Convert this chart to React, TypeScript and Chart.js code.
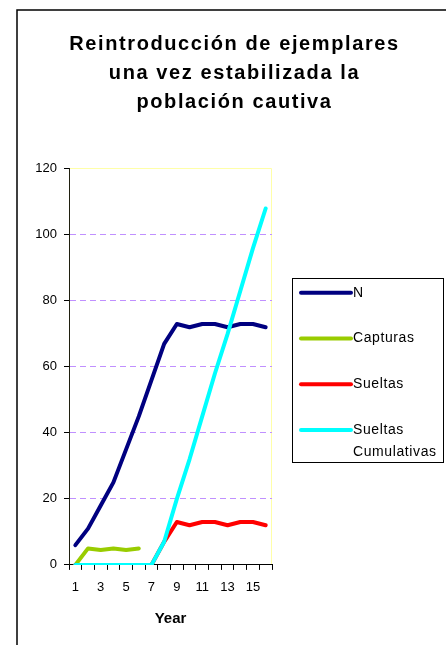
import { useEffect, useRef } from 'react';
import { Chart, registerables } from 'chart.js';

Chart.register(...registerables);

const years = ['1', '2', '3', '4', '5', '6', '7', '8', '9', '10', '11', '12', '13', '14', '15', '16'];
const seriesN = [6, 11, 18, 25, 35, 45, 56, 67, 73, 72, 73, 73, 72, 73, 73, 72];
const seriesCapturas = [0, 5, 4.5, 5, 4.5, 5, null, null, null, null, null, null, null, null, null, null];
const seriesSueltas = [0, 0, 0, 0, 0, 0, 0, 7, 13, 12, 13, 13, 12, 13, 13, 12];
const seriesCumulativas = [0, 0, 0, 0, 0, 0, 0, 7, 20, 32, 45, 58, 70, 83, 96, 108];
const seriesNames = ['N', 'Capturas', 'Sueltas', 'Sueltas Cumulativas'];
const seriesColors = ['#000080', '#99cc00', '#ff0000', '#00ffff'];
const titleLines = ['Reintroducción de ejemplares', 'una vez estabilizada la', 'población cautiva'];
const xAxisTitle = 'Year';
const yMin = 0;
const yMax = 120;
const yStep = 20;

const FONT = '"Liberation Sans", Arial, Helvetica, sans-serif';

export default function App() {
  const ref = useRef<HTMLCanvasElement>(null);

  useEffect(() => {
    const canvas = ref.current;
    if (!canvas) return;

    const decorPlugin = {
      id: 'decor',
      beforeDraw(chart: any) {
        const ctx = chart.ctx as CanvasRenderingContext2D;
        ctx.save();
        ctx.fillStyle = '#ffffff';
        ctx.fillRect(0, 0, chart.width, chart.height);
        // outer frame (left + top visible)
        ctx.strokeStyle = '#000000';
        ctx.lineWidth = 1.5;
        ctx.beginPath();
        ctx.moveTo(17, chart.height);
        ctx.lineTo(17, 10);
        ctx.lineTo(chart.width, 10);
        ctx.stroke();
        // plot area border (top + right), pale yellow
        const a = chart.chartArea;
        ctx.strokeStyle = '#ffffa8';
        ctx.lineWidth = 1;
        ctx.beginPath();
        ctx.moveTo(a.left, Math.floor(a.top) + 0.5);
        ctx.lineTo(a.right - 0.5, Math.floor(a.top) + 0.5);
        ctx.lineTo(a.right - 0.5, a.bottom);
        ctx.stroke();
        // title
        ctx.fillStyle = '#000000';
        ctx.font = `bold 20px ${FONT}`;
        (ctx as any).letterSpacing = '1.6px';
        ctx.textAlign = 'center';
        ctx.textBaseline = 'alphabetic';
        titleLines.forEach((t, i) => ctx.fillText(t, 234.5, 50 + i * 29));
        ctx.restore();
      },
      afterDraw(chart: any) {
        const ctx = chart.ctx as CanvasRenderingContext2D;
        ctx.save();
        const bx = 292.5, by = 278.5, bw = 151, bh = 184;
        ctx.strokeStyle = '#000000';
        ctx.lineWidth = 1;
        ctx.strokeRect(bx, by, bw, bh);
        ctx.font = `14px ${FONT}`;
        (ctx as any).letterSpacing = '0.6px';
        ctx.textAlign = 'left';
        ctx.textBaseline = 'middle';
        const textX = 353;
        const maxW = bx + bw - textX - 2;
        chart.data.datasets.forEach((ds: any, i: number) => {
          const y = 292.7 + i * 45.8;
          ctx.strokeStyle = ds.borderColor;
          ctx.lineWidth = 4;
          ctx.lineCap = 'round';
          ctx.beginPath();
          ctx.moveTo(301, y);
          ctx.lineTo(351, y);
          ctx.stroke();
          const words = String(ds.label).split(' ');
          const lines: string[] = [];
          let cur = '';
          words.forEach((w) => {
            const test = cur ? cur + ' ' + w : w;
            if (cur && ctx.measureText(test).width > maxW) {
              lines.push(cur);
              cur = w;
            } else {
              cur = test;
            }
          });
          if (cur) lines.push(cur);
          ctx.fillStyle = '#000000';
          lines.forEach((l, j) => ctx.fillText(l, textX, y + j * 21.7));
        });
        ctx.restore();
      },
    };

    const allSeries = [seriesN, seriesCapturas, seriesSueltas, seriesCumulativas];

    const chart = new Chart(canvas, {
      type: 'line',
      data: {
        labels: years,
        datasets: allSeries.map((d, i) => ({
          label: seriesNames[i],
          data: d,
          borderColor: seriesColors[i],
          backgroundColor: seriesColors[i],
          borderWidth: 4,
          pointRadius: 0,
          pointHoverRadius: 0,
          tension: 0,
          fill: false,
          spanGaps: false,
          borderJoinStyle: 'round' as const,
          borderCapStyle: 'round' as const,
          order: allSeries.length - i,
        })),
      },
      options: {
        responsive: false,
        animation: false,
        devicePixelRatio: 1,
        layout: { padding: { top: 168.9, right: 174, left: 0, bottom: 0 } },
        plugins: {
          legend: { display: false },
          title: { display: false },
          tooltip: { enabled: false },
        },
        scales: {
          x: {
            type: 'category',
            offset: true,
            afterFit: (s: any) => {
              s.height = 80.1;
            },
            grid: {
              display: true,
              offset: true,
              drawOnChartArea: false,
              drawTicks: true,
              tickLength: 5,
              tickColor: '#000000',
              color: '#000000',
            },
            border: { display: true, color: '#000000', width: 1 },
            ticks: {
              autoSkip: false,
              maxRotation: 0,
              padding: 10,
              color: '#000000',
              font: { family: FONT, size: 13 },
              callback: (_v: any, i: number) => (i % 2 === 0 ? years[i] : ''),
            },
            title: {
              display: true,
              text: xAxisTitle,
              color: '#000000',
              font: { family: FONT, size: 15, weight: 'bold' },
              padding: { top: 0, bottom: 17 },
            },
          },
          y: {
            min: yMin,
            max: yMax,
            afterFit: (s: any) => {
              s.width = 69;
            },
            grid: {
              display: true,
              drawTicks: true,
              tickLength: 5,
              tickColor: '#000000',
              color: (ctx: any) => {
                const v = ctx.tick ? ctx.tick.value : null;
                return v === yMin || v === yMax ? 'rgba(0,0,0,0)' : '#c090ff';
              },
            },
            border: { display: true, color: '#202010', width: 1, dash: [6, 4] },
            ticks: {
              stepSize: yStep,
              padding: 7,
              color: '#000000',
              font: { family: FONT, size: 13 },
            },
          },
        },
      },
      plugins: [decorPlugin],
    } as any);

    return () => {
      chart.destroy();
    };
  }, []);

  return (
    <div style={{ height: 0 }}>
      <canvas
        ref={ref}
        width={446}
        height={645}
        style={{ position: 'fixed', left: 0, top: 0, width: 446, height: 645 }}
      />
    </div>
  );
}
